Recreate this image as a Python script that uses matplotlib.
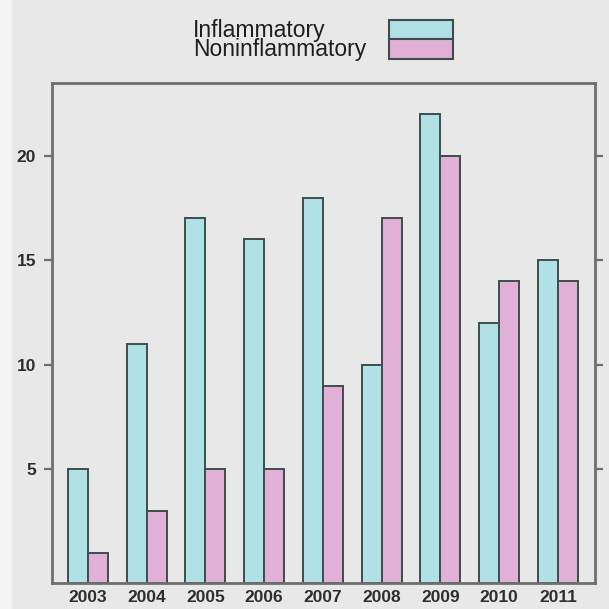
import matplotlib
matplotlib.use("Agg")
import matplotlib.pyplot as plt
from matplotlib.patches import Rectangle
import numpy as np

years = ["2003", "2004", "2005", "2006", "2007", "2008", "2009", "2010", "2011"]
inflammatory = [5, 11, 17, 16, 18, 10, 22, 12, 15]
noninflammatory = [1, 3, 5, 5, 9, 17, 20, 14, 14]
series_names = ["Inflammatory", "Noninflammatory"]
y_ticks = [5, 10, 15, 20]

W = H = 609
DPI = 100
BG = "#e8e8e8"
CYAN = "#b0e1e4"
PINK = "#e1b0d6"
EDGE = "#3e4c4e"
SPINE = "#6e6e6e"
TEXT = "#2e2e2e"

plt.rcParams["font.family"] = ["Liberation Sans", "DejaVu Sans"]

fig = plt.figure(figsize=(W / DPI, H / DPI), dpi=DPI, facecolor=BG)
# pale strip along the left edge
fig.add_artist(Rectangle((0, 0), 12 / W, 1, transform=fig.transFigure,
                         facecolor="#f3f3f3", edgecolor="none", zorder=0))

def px(x0, y0, x1, y1):
    """pixel box (top-left origin) -> figure fraction [l, b, w, h]"""
    return [x0 / W, 1 - y1 / H, (x1 - x0) / W, (y1 - y0) / H]

ax = fig.add_axes(px(52, 83, 595, 583))
ax.set_facecolor(BG)

YMIN, YMAX = -0.46, 23.49
x = np.arange(1, len(years) + 1)
bw = 0.34
ax.bar(x - bw / 2, np.array(inflammatory) - YMIN, bottom=YMIN, width=bw,
       color=CYAN, edgecolor=EDGE, linewidth=1.4)
ax.bar(x + bw / 2, np.array(noninflammatory) - YMIN, bottom=YMIN, width=bw,
       color=PINK, edgecolor=EDGE, linewidth=1.4)

ax.set_xlim(0.39, 9.63)
ax.set_ylim(YMIN, YMAX)
ax.set_xticks(x)
ax.set_xticklabels(years)
ax.set_yticks(y_ticks)
ax.tick_params(axis="x", length=0, pad=5, labelsize=12.5, labelcolor=TEXT)
ax.tick_params(axis="y", which="both", direction="out", length=6, width=1.6,
               color=SPINE, pad=5.5, labelsize=12.5, labelcolor=TEXT,
               right=True, labelright=False)
for lab in ax.get_xticklabels() + ax.get_yticklabels():
    lab.set_fontweight("bold")
for s in ax.spines.values():
    s.set_color(SPINE)
    s.set_linewidth(2.0)

# key above the panel: two stacked labels and two stacked swatches
fig.text(193 / W, 1 - 19 / H, "\n".join(series_names), fontsize=16.5,
         color="#1e1e1e", ha="left", va="top", linespacing=0.8)
for (y0, y1), c in zip([(20, 39), (39, 59)], [CYAN, PINK]):
    l, b, w, h = px(389, y0, 453, y1)
    fig.add_artist(Rectangle((l, b), w, h, transform=fig.transFigure,
                             facecolor=c, edgecolor=EDGE, linewidth=1.5))

fig.savefig("out.png", dpi=DPI, facecolor=BG)
